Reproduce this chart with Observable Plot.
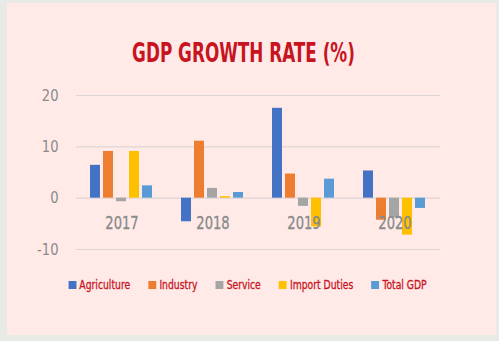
<!DOCTYPE html>
<html><head><meta charset="utf-8">
<script src="https://cdn.jsdelivr.net/npm/d3@7"></script>
<script src="https://cdn.jsdelivr.net/npm/@observablehq/plot@0.6"></script>
<style>
html,body{margin:0;padding:0;background:#e8eae6;width:499px;height:341px;overflow:hidden;}
#panel{position:absolute;left:7px;top:3px;width:489px;height:332px;background:#ffeae8;}
#title{position:absolute;left:-8px;width:100%;top:35px;text-align:center;color:#c8141e;font-family:"DejaVu Sans",sans-serif;font-stretch:condensed;font-weight:bold;font-size:26px;transform:scaleX(0.72);transform-origin:center;}
#chart{position:absolute;left:0;top:0;}
#legend{position:absolute;left:-4px;width:100%;top:274px;text-align:center;font-family:"DejaVu Sans",sans-serif;font-stretch:condensed;font-size:13px;color:#c8141e;-webkit-text-stroke:0.3px #c8141e;transform:scaleX(0.79);transform-origin:center;white-space:nowrap;}
#legend span.item{margin:0 11.5px;white-space:nowrap;}
#legend span.sw{display:inline-block;width:10px;height:8px;margin-right:4px;vertical-align:0px;}
</style></head>
<body>
<div id="panel">
<div id="chart"></div>
<div id="title">GDP GROWTH RATE (%)</div>
<div id="legend"></div>
</div>
<script>
const years = ["2017","2018","2019","2020"];
const series = ["Agriculture","Industry","Service","Import Duties","Total GDP"];
const colors = ["#4472c4","#ed7d31","#a5a5a5","#ffc000","#5b9bd5"];
const agriculture = [6.4, -4.6, 17.5, 5.3];
const industry = [9.1, 11.1, 4.7, -4.3];
const service = [-0.7, 1.9, -1.6, -3.9];
const importDuties = [9.1, 0.3, -5.6, -7.2];
const totalGDP = [2.4, 1.1, 3.7, -2.0];
const yTicks = [-10, 0, 10, 20];

const valuesBySeries = [agriculture, industry, service, importDuties, totalGDP];
const data = [];
years.forEach((yr, i) => series.forEach((s, j) => data.push({year: yr, series: s, value: valuesBySeries[j][i]})));

const font = '"DejaVu Sans",sans-serif';
const plot = Plot.plot({
  width: 489, height: 332,
  marginLeft: 69, marginRight: 56, marginTop: 92, marginBottom: 86,
  style: {background: "transparent", fontFamily: font},
  fx: {domain: years, padding: 0, axis: null},
  x: {domain: series, paddingInner: 0.2, paddingOuter: 0.9, axis: null},
  y: {domain: [-10, 20], ticks: yTicks, tickSize: 0, tickPadding: 18, label: null},
  color: {domain: series, range: colors},
  marks: [
    Plot.ruleY(yTicks, {stroke: "#dcd5d5", strokeWidth: 1.2}),
    Plot.barY(data, {fx: "year", x: "series", y: "value", fill: "series", inset: 0}),
    Plot.text(years, {fx: d => d, y: 0, dy: 25, text: d => d, fill: "#8a8a8a", stroke: "#8a8a8a", strokeWidth: 0.35, fontSize: 17, fontFamily: font}),
    Plot.axisY({ticks: yTicks, tickSize: 0, tickPadding: 18, tickFormat: d => String(d), fontSize: 16, fill: "#8a8a8a", stroke: "#8a8a8a", strokeWidth: 0.35, label: null})
  ]
});
document.getElementById("chart").appendChild(plot);

// horizontally condense SVG labels to mimic a narrow typeface
plot.querySelectorAll("text").forEach(t => {
  const b = t.getBBox();
  const anchor = getComputedStyle(t).textAnchor || t.getAttribute("text-anchor");
  let ax = b.x + b.width / 2;
  if (anchor === "end") ax = b.x + b.width;
  else if (anchor === "start") ax = b.x;
  const s = anchor === "end" ? 0.82 : 0.77;
  const prev = t.getAttribute("transform") || "";
  t.setAttribute("transform", `${prev} translate(${ax},0) scale(${s},1) translate(${-ax},0)`.trim());
});

const lg = document.getElementById("legend");
series.forEach((s, j) => {
  const it = document.createElement("span"); it.className = "item";
  const sw = document.createElement("span"); sw.className = "sw"; sw.style.background = colors[j];
  it.appendChild(sw); it.appendChild(document.createTextNode(s));
  lg.appendChild(it);
});
</script>
</body></html>
